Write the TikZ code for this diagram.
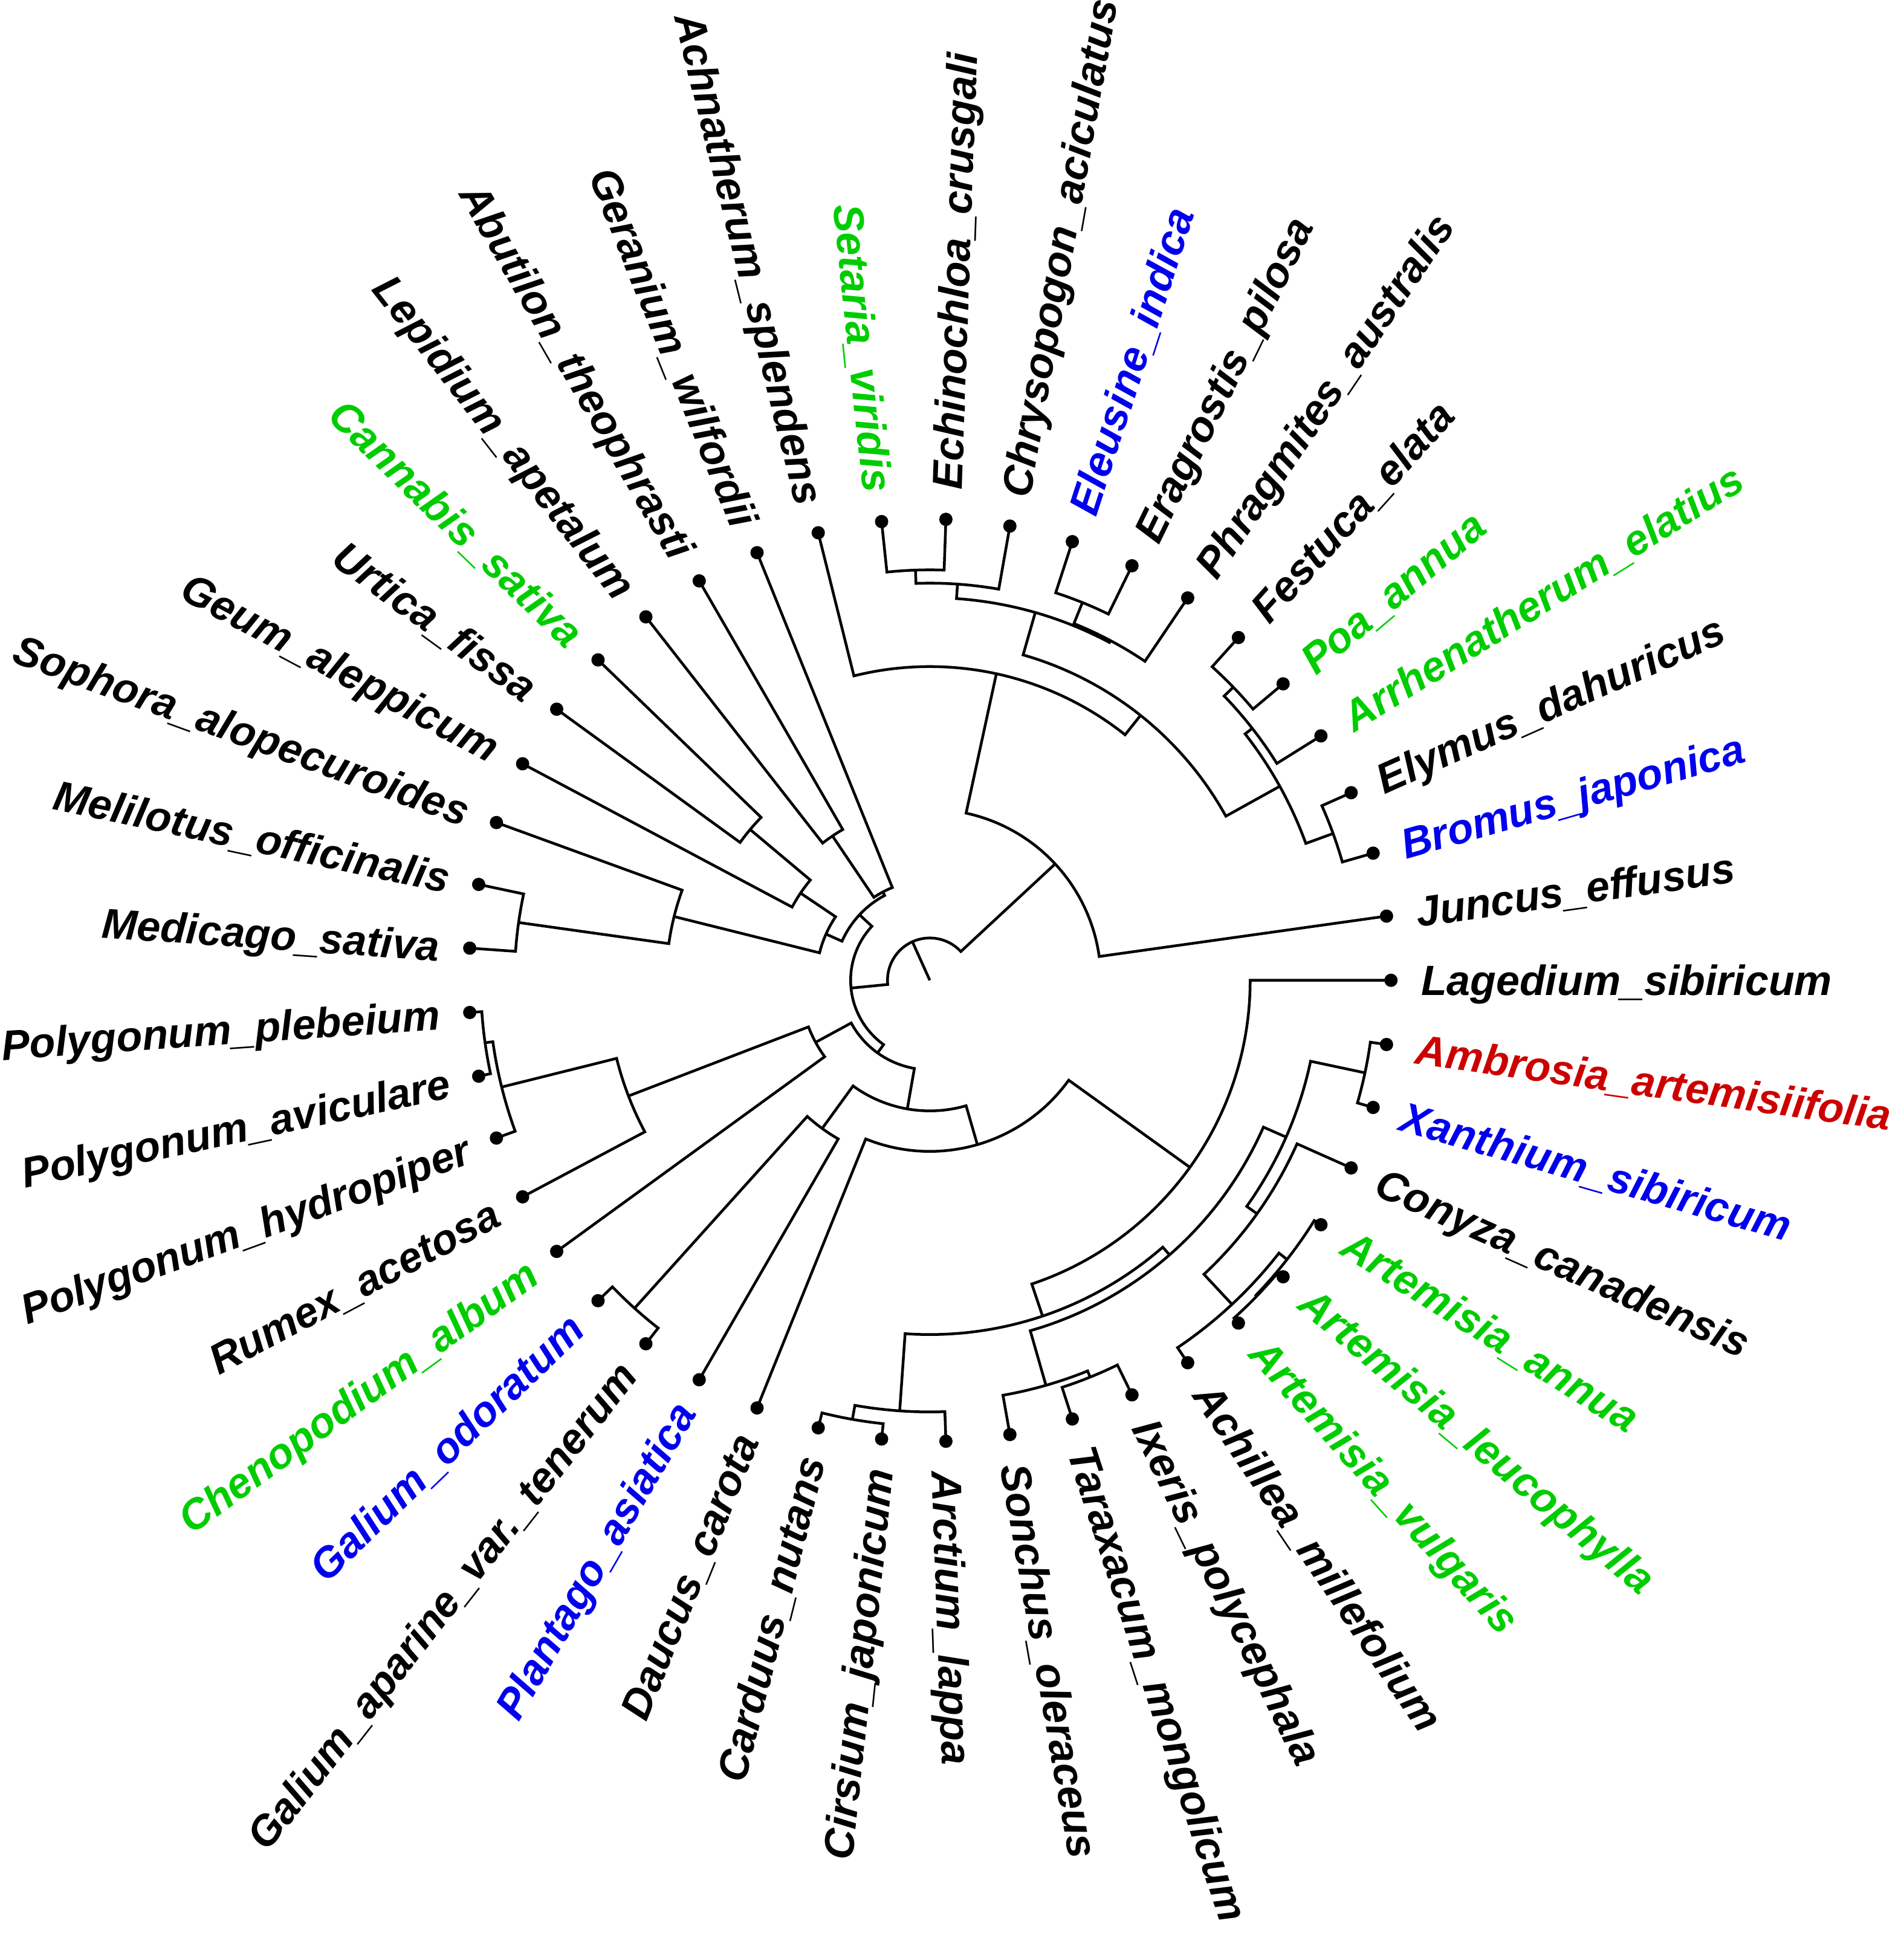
\documentclass[tikz,border=0pt]{standalone}
\usepackage{fontspec}
\setmainfont{Liberation Sans}
\definecolor{tgreen}{RGB}{0,205,0}
\definecolor{tblue}{RGB}{0,0,238}
\definecolor{tred}{RGB}{205,0,0}
\newcommand\RT{7.63}
\newcommand\RL{8.12}
% clade: name, radius, angle1, radius of child1, angle2, radius of child2
\newcommand\clade[6]{%
  \coordinate (#1) at ({(#3+#5)/2}:#2);
  \draw[br] (#3:#4) -- (#3:#2) arc[start angle=#3, end angle=#5, radius=#2] -- (#5:#6);}
\newcommand\tipR[4]{\node[dot] (#1) at (#2:\RT) {};
  \node[lab,anchor=west,rotate=#2,text=#4] (#1l) at (#2:\RL) {#3};}
\newcommand\tipL[4]{\node[dot] (#1) at (#2:\RT) {};
  \node[lab,anchor=east,rotate=#2-180,text=#4] (#1l) at (#2:\RL) {#3};}
\begin{document}
\begin{tikzpicture}[
  br/.style={line width=0.045cm, line join=miter},
  dot/.style={circle, fill=black, inner sep=0pt, minimum size=0.22cm},
  lab/.style={font=\fontsize{19.9}{24}\selectfont\bfseries\itshape, inner sep=0pt, text height=14.3pt, text depth=0pt}]
\fill[white] (-15.383,-15.843) rectangle (16.117,16.217);
\useasboundingbox (-15.383,-15.843) rectangle (16.117,16.217);
% root
\coordinate (root) at (0,0);
\draw[br] (root) -- (114.26:0.70);
\clade{nRoot}{0.70}{42.875}{2.83}{185.64}{1.31}
% grasses + Juncus
\clade{nA}{2.83}{8}{\RT}{77.75}{5.19}
\clade{nW}{5.19}{51.5}{5.60}{104}{\RT}
\clade{nZ}{5.60}{29}{6.62}{74}{6.33}
\clade{nY}{6.33}{62}{6.365}{86}{6.57}
\clade{nSEC}{6.57}{80}{\RT}{92}{6.79}
\clade{nSE}{6.79}{88}{\RT}{96}{\RT}
\clade{nQ}{6.365}{56}{\RT}{68}{6.74}
\clade{nEE}{6.74}{64}{\RT}{72}{\RT}
\clade{nFPABE}{6.62}{20}{7.10}{38}{6.77}
\clade{nFPA}{6.77}{32}{\RT}{44}{6.98}
\clade{nFP}{6.98}{40}{\RT}{48}{\RT}
\clade{nBE}{7.10}{16}{\RT}{24}{\RT}
% left part
\clade{nB}{1.31}{137}{1.59}{234.285}{1.48}
\clade{nB1}{1.59}{118}{1.655}{156}{1.88}
\clade{nG}{1.655}{112}{\RT}{124}{2.88}
\clade{nH}{2.88}{120}{\RT}{128}{\RT}
\clade{nN1}{1.88}{146}{2.58}{166}{4.36}
\clade{nN2}{2.58}{140}{3.88}{152}{\RT}
\clade{nN3}{3.88}{136}{\RT}{144}{\RT}
\clade{nSMM}{4.36}{160}{\RT}{172}{6.87}
\clade{nMM}{6.87}{168}{\RT}{176}{\RT}
\clade{nB2}{1.48}{208.5}{2.15}{260.0703}{2.16}
\clade{nN4}{2.15}{201}{5.34}{216}{\RT}
\clade{nPol}{5.34}{194}{7.30}{208}{\RT}
\clade{nPAH}{7.30}{188}{7.43}{200}{\RT}
\clade{nPA}{7.43}{184}{\RT}{192}{\RT}
\clade{nN5}{2.16}{234}{3.03}{286.1406}{2.83}
\clade{nN6}{3.03}{228}{7.30}{240}{\RT}
\clade{nGal}{7.30}{224}{\RT}{232}{\RT}
% Asteraceae
\clade{nN7}{2.83}{248}{\RT}{324.2813}{5.30}
\clade{nN8}{5.30}{288.5625}{5.86}{360}{\RT}
\clade{nN9}{5.86}{266}{7.14}{311.125}{6.03}
\clade{nCAC}{7.14}{260}{7.375}{272}{\RT}
\clade{nCC}{7.375}{256}{\RT}{264}{\RT}
\clade{nN12}{6.03}{286}{6.97}{336.25}{6.44}
\clade{nSTI}{6.97}{280}{\RT}{292}{7.08}
\clade{nTI}{7.08}{288}{\RT}{296}{\RT}
\clade{nN10}{6.44}{324.5}{6.65}{348}{7.36}
\clade{nN11}{6.65}{313}{7.33}{336}{\RT}
\clade{nArt}{7.33}{304}{\RT}{322}{7.50}
\clade{nAVLA}{7.50}{316}{7.52}{328}{\RT}
\clade{nAVL}{7.52}{312}{\RT}{320}{\RT}
\clade{nXA}{7.36}{344}{\RT}{352}{\RT}
% tips and labels
\tipR{t00}{0}{Lagedium\_sibiricum}{black}
\tipR{t01}{8}{Juncus\_effusus}{black}
\tipR{t02}{16}{Bromus\_japonica}{tblue}
\tipR{t03}{24}{Elymus\_dahuricus}{black}
\tipR{t04}{32}{Arrhenatherum\_elatius}{tgreen}
\tipR{t05}{40}{Poa\_annua}{tgreen}
\tipR{t06}{48}{Festuca\_elata}{black}
\tipR{t07}{56}{Phragmites\_australis}{black}
\tipR{t08}{64}{Eragrostis\_pilosa}{black}
\tipR{t09}{72}{Eleusine\_indica}{tblue}
\tipR{t10}{80}{Chrysopogon\_aciculatus}{black}
\tipR{t11}{88}{Echinochloa\_crusgali}{black}
\tipL{t12}{96}{Setaria\_viridis}{tgreen}
\tipL{t13}{104}{Achnatherum\_splendens}{black}
\tipL{t14}{112}{Geranium\_wilfordii}{black}
\tipL{t15}{120}{Abutilon\_theophrasti}{black}
\tipL{t16}{128}{Lepidium\_apetalum}{black}
\tipL{t17}{136}{Cannabis\_sativa}{tgreen}
\tipL{t18}{144}{Urtica\_fissa}{black}
\tipL{t19}{152}{Geum\_aleppicum}{black}
\tipL{t20}{160}{Sophora\_alopecuroides}{black}
\tipL{t21}{168}{Melilotus\_officinalis}{black}
\tipL{t22}{176}{Medicago\_sativa}{black}
\tipL{t23}{184}{Polygonum\_plebeium}{black}
\tipL{t24}{192}{Polygonum\_aviculare}{black}
\tipL{t25}{200}{Polygonum\_hydropiper}{black}
\tipL{t26}{208}{Rumex\_acetosa}{black}
\tipL{t27}{216}{Chenopodium\_album}{tgreen}
\tipL{t28}{224}{Galium\_odoratum}{tblue}
\tipL{t29}{232}{Galium\_aparine\_var.\_tenerum}{black}
\tipL{t30}{240}{Plantago\_asiatica}{tblue}
\tipL{t31}{248}{Daucus\_carota}{black}
\tipL{t32}{256}{Carduus\_nutans}{black}
\tipL{t33}{264}{Cirsium\_japonicum}{black}
\tipR{t34}{272}{Arctium\_lappa}{black}
\tipR{t35}{280}{Sonchus\_oleraceus}{black}
\tipR{t36}{288}{Taraxacum\_mongolicum}{black}
\tipR{t37}{296}{Ixeris\_polycephala}{black}
\tipR{t38}{304}{Achillea\_millefolium}{black}
\tipR{t39}{312}{Artemisia\_vulgaris}{tgreen}
\tipR{t40}{320}{Artemisia\_leucophylla}{tgreen}
\tipR{t41}{328}{Artemisia\_annua}{tgreen}
\tipR{t42}{336}{Conyza\_canadensis}{black}
\tipR{t43}{344}{Xanthium\_sibiricum}{tblue}
\tipR{t44}{352}{Ambrosia\_artemisiifolia}{tred}
\end{tikzpicture}
\end{document}
